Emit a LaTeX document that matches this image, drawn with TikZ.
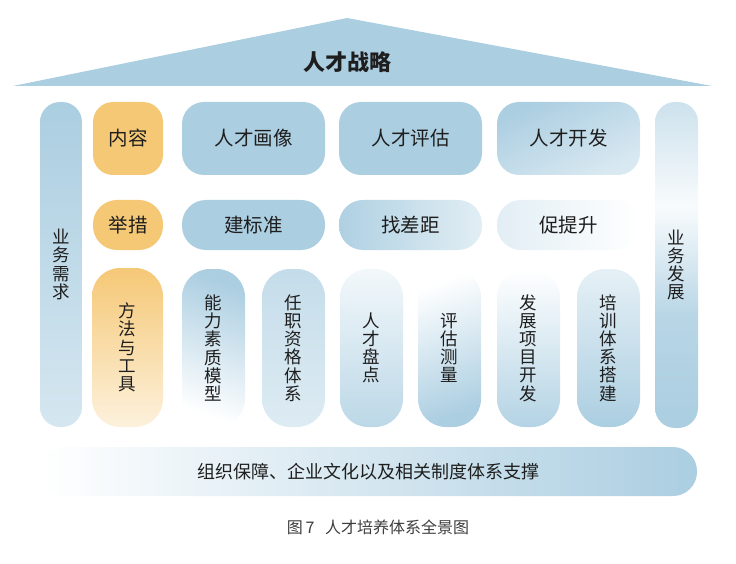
\documentclass[tikz,border=0pt]{standalone}
\usepackage{fontspec}
\setmainfont{Noto Sans CJK SC}
\definecolor{roofblue}{RGB}{171,206,225}
\definecolor{tagorange}{RGB}{245,200,118}
\definecolor{inkgray}{RGB}{30,30,30}
\definecolor{capgray}{RGB}{60,60,60}
\pgfdeclareverticalshading{growthshade}{100bp}{color(0bp)=(roofblue); color(25bp)=(roofblue); color(42bp)=(roofblue!85); color(59bp)=(roofblue!8); color(75bp)=(roofblue!60); color(100bp)=(roofblue!60)}
\tikzset{
  tile/.style={inner sep=0pt, text=inkgray, rounded corners=#1},
  lbl/.style={font=\fontsize{19.5}{22}\selectfont},
  vlbl/.style={align=center, font=\fontsize{17.5}{18.2}\selectfont},
}

\begin{document}
\begin{tikzpicture}[x=1pt,y=-1pt]
			%%%%% START %%%%%
			\useasboundingbox (0,0) rectangle (736,564);
			
			% roof
			\fill[roofblue] (13,86) -- (347,18) -- (712,86) -- cycle;
			\node[text=inkgray, font=\fontsize{22}{24}\selectfont\bfseries] (strategy) at (347,62) {人才战略};
			
			% pillars
			\node[tile=20pt, vlbl, minimum width=42pt, minimum height=325pt, top color=roofblue, bottom color=roofblue!50] (demand) at (61,264.5) {业\\务\\需\\求};
			\node[tile=20pt, vlbl, minimum width=43pt, minimum height=326pt, shading=growthshade] (growth) at (676.5,265) {业\\务\\发\\展};
			
			% orange tags
			\node[tile=20pt, lbl, minimum width=70pt, minimum height=73pt, fill=tagorange] (content) at (128,138.5) {内容};
			\node[tile=24pt, lbl, minimum width=70pt, minimum height=50pt, fill=tagorange] (measure) at (128,225) {举措};
			\node[tile=28pt, vlbl, minimum width=71pt, minimum height=159pt, top color=tagorange, bottom color=tagorange!25] (tools) at (127.5,347.5) {方\\法\\与\\工\\具};
			
			% row 1
			\node[tile=22pt, lbl, minimum width=143pt, minimum height=73pt, fill=roofblue] (portrait) at (253.5,138.5) {人才画像};
			\node[tile=22pt, lbl, minimum width=143pt, minimum height=73pt, fill=roofblue] (assess) at (410.5,138.5) {人才评估};
			\node[tile=22pt, lbl, minimum width=143pt, minimum height=73pt, top color=roofblue, bottom color=roofblue!45, shading angle=25] (develop) at (568.5,138.5) {人才开发};
			
			% row 2
			\node[tile=24pt, lbl, minimum width=143pt, minimum height=50pt, fill=roofblue] (standard) at (253.5,225) {建标准};
			\node[tile=24pt, lbl, minimum width=143pt, minimum height=50pt, left color=roofblue!95, right color=roofblue!35] (gap) at (410.5,225) {找差距};
			\node[tile=24pt, lbl, minimum width=143pt, minimum height=50pt, left color=roofblue!35, right color=white] (improve) at (568.5,225) {促提升};
			
			% row 3
			\node[tile=28pt, vlbl, minimum width=63pt, minimum height=158pt, top color=roofblue, bottom color=white, shading angle=-20] (model) at (213.5,348) {能\\力\\素\\质\\模\\型};
			\node[tile=28pt, vlbl, minimum width=63pt, minimum height=158pt, top color=roofblue!70, middle color=roofblue!10, bottom color=roofblue!40] (qualify) at (293.5,348) {任\\职\\资\\格\\体\\系};
			\node[tile=28pt, vlbl, minimum width=63pt, minimum height=158pt, top color=roofblue!15, bottom color=roofblue!80] (review) at (371.5,348) {人\\才\\盘\\点};
			\node[tile=28pt, vlbl, minimum width=63pt, minimum height=158pt, top color=white, bottom color=roofblue, shading angle=20] (gauge) at (449.5,348) {评\\估\\测\\量};
			\node[tile=28pt, vlbl, minimum width=63pt, minimum height=158pt, top color=white, bottom color=roofblue!90] (project) at (528.5,348) {发\\展\\项\\目\\开\\发};
			\node[tile=28pt, vlbl, minimum width=63pt, minimum height=158pt, top color=roofblue!30, bottom color=roofblue] (training) at (608.5,348) {培\\训\\体\\系\\搭\\建};
			
			% base
			\node[tile=24pt, font=\fontsize{18}{20}\selectfont, minimum width=657pt, minimum height=49pt, left color=white, middle color=roofblue!85, right color=roofblue] (support) at (368.5,471.5) {组织保障、企业文化以及相关制度体系支撑};
			
			\node[text=capgray, font=\fontsize{16}{18}\selectfont] (caption) at (378,527) {图\,7\ \ \ 人才培养体系全景图};
			
			%%%%% END %%%%%
\end{tikzpicture}
\end{document}
